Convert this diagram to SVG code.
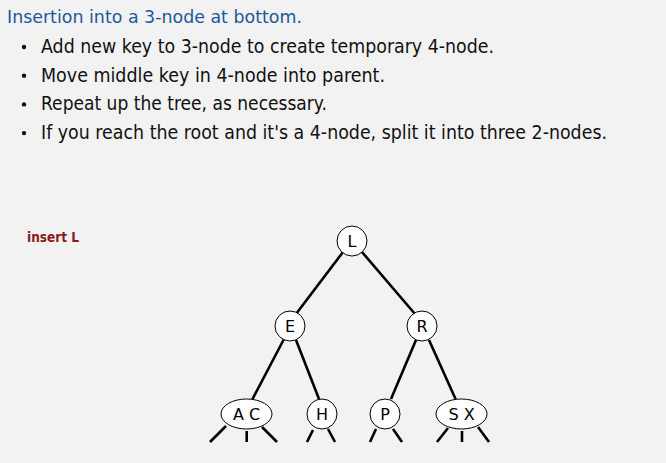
<svg xmlns="http://www.w3.org/2000/svg" width="666" height="463" viewBox="0 0 666 463">
<style>
.t{font-family:"DejaVu Sans","Liberation Sans",sans-serif;fill:#111}
.title{font-size:18px;fill:#22589a}
.b{font-size:19px}
.lab{font-family:"DejaVu Sans","Liberation Sans",sans-serif;font-size:16px;fill:#000;text-anchor:middle}
.n{fill:#fff;stroke:#000;stroke-width:1}
.e{stroke:#000;stroke-width:2.6;fill:none;stroke-linecap:butt}
</style>
<rect width="666" height="463" fill="#f2f2f2"/>
<text class="t title" x="7" y="23" textLength="295" lengthAdjust="spacingAndGlyphs">Insertion into a 3-node at bottom.</text>
<g fill="#111">
<circle cx="24" cy="47" r="2.2"/>
<circle cx="24" cy="75.7" r="2.2"/>
<circle cx="24" cy="104.4" r="2.2"/>
<circle cx="24" cy="133.1" r="2.2"/>
</g>
<text class="t b" x="41" y="53" textLength="453" lengthAdjust="spacingAndGlyphs">Add new key to 3-node to create temporary 4-node.</text>
<text class="t b" x="41" y="81.7" textLength="344" lengthAdjust="spacingAndGlyphs">Move middle key in 4-node into parent.</text>
<text class="t b" x="41" y="110.4" textLength="286" lengthAdjust="spacingAndGlyphs">Repeat up the tree, as necessary.</text>
<text class="t b" x="41" y="139.1" textLength="566" lengthAdjust="spacingAndGlyphs">If you reach the root and it's a 4-node, split it into three 2-nodes.</text>
<text x="27" y="242" font-family="DejaVu Sans, Liberation Sans, sans-serif" font-size="13.5" font-weight="bold" fill="#8b1a1a" textLength="52" lengthAdjust="spacingAndGlyphs">insert L</text>
<g id="connectors">
<line class="e" x1="343" y1="252" x2="296" y2="314"/>
<line class="e" x1="362" y1="252" x2="415" y2="314"/>
<line class="e" x1="284" y1="339" x2="252" y2="400"/>
<line class="e" x1="296" y1="340" x2="319" y2="399"/>
<line class="e" x1="416" y1="340" x2="391" y2="399"/>
<line class="e" x1="429" y1="340" x2="456" y2="400"/>
<line class="e" x1="226" y1="426" x2="210" y2="442"/>
<line class="e" x1="246.7" y1="431" x2="246.7" y2="442"/>
<line class="e" x1="262" y1="427" x2="277" y2="442"/>
<line class="e" x1="313" y1="430" x2="307" y2="442"/>
<line class="e" x1="328" y1="429" x2="335" y2="442"/>
<line class="e" x1="376" y1="429" x2="370" y2="442"/>
<line class="e" x1="393" y1="429" x2="402" y2="442"/>
<line class="e" x1="448" y1="428" x2="437" y2="442"/>
<line class="e" x1="462" y1="431" x2="462" y2="442"/>
<line class="e" x1="478" y1="427" x2="489" y2="442"/>
</g>
<g id="node-L"><circle class="n" cx="352" cy="241" r="15"/><text class="lab" x="352" y="246.5">L</text></g>
<g id="node-E"><circle class="n" cx="290" cy="326" r="15"/><text class="lab" x="290" y="331.5">E</text></g>
<g id="node-R"><circle class="n" cx="422" cy="326" r="15"/><text class="lab" x="422" y="331.5">R</text></g>
<g id="node-AC"><ellipse class="n" cx="246.5" cy="414" rx="25.5" ry="15"/><text class="lab" x="246.5" y="419.5">A C</text></g>
<g id="node-H"><circle class="n" cx="322" cy="414" r="15"/><text class="lab" x="322" y="419.5">H</text></g>
<g id="node-P"><circle class="n" cx="385" cy="414" r="15"/><text class="lab" x="385" y="419.5">P</text></g>
<g id="node-SX"><ellipse class="n" cx="461.5" cy="414" rx="25.5" ry="15"/><text class="lab" x="461.5" y="419.5">S X</text></g>
</svg>
